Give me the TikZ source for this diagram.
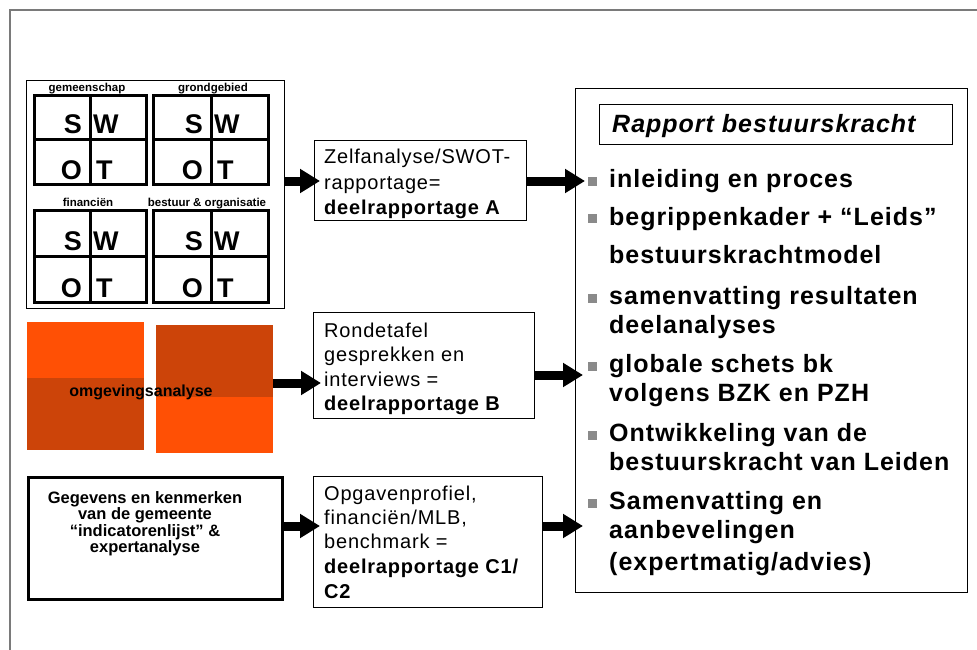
\documentclass[tikz,border=0pt]{standalone}
\usepackage{fontspec}
\setmainfont{Liberation Sans}
\newfontfamily\trackfont[LetterSpace=4]{Liberation Sans}
\usetikzlibrary{arrows.meta,calc}
\definecolor{orangebright}{HTML}{FF5005}
\definecolor{orangedark}{HTML}{CC4409}
\definecolor{bulletgray}{HTML}{8A8A8A}
\definecolor{framegray}{HTML}{7A7A7A}

\begin{document}
\begin{tikzpicture}[x=1pt,y=-1pt,
  panel/.style={draw, anchor=north west, inner sep=0pt},
  gridline/.style={line width=3pt},
  letter/.style={inner sep=0pt, font=\bfseries\fontsize{27}{32}\selectfont},
  quadlabel/.style={inner sep=0pt, anchor=base, font=\bfseries\fontsize{11.5}{14}\selectfont},
  midtext/.style={inner sep=0pt, anchor=base west, font=\trackfont\fontsize{20}{25}\selectfont},
  ctext/.style={inner sep=0pt, anchor=base, font=\bfseries\fontsize{16.5}{20}\selectfont},
  itemtext/.style={inner sep=0pt, anchor=base west, font=\trackfont\bfseries\fontsize{25}{30}\selectfont},
  bulletsq/.style={fill=bulletgray, inner sep=0pt, minimum size=9pt},
  bigarrow/.style={line width=9pt, -{Triangle[length=20pt,width=23pt]}},
]
\useasboundingbox (0,0) rectangle (977,650);

% page frame
\draw[framegray, line width=1.2pt] (10,650) -- (10,10) -- (977,10);

% SWOT block
\node[panel, line width=0.9pt, minimum width=258pt, minimum height=228pt] (swot) at (26,80) {};
\foreach \gx/\gm/\gr/\gy/\gc/\gb/\n in {34/90/146/96/140/184/a, 153/211/268/96/140/184/b, 34/90/146/210/256/302/c, 153/211/268/210/256/302/d}{
  \draw[gridline] (\gx,\gy) rectangle (\gr,\gb);
  \draw[gridline] (\gm,\gy) -- (\gm,\gb) (\gx,\gc) -- (\gr,\gc);
  \node[letter, anchor=base east] (s\n) at (\gm-8,\gc-6) {S};
  \node[letter, anchor=base west] (w\n) at (\gm+3,\gc-6) {W};
  \node[letter, anchor=base east] (o\n) at (\gm-8,\gb-5) {O};
  \node[letter, anchor=base west] (t\n) at (\gm+6,\gb-5) {T};
}
\node[quadlabel] (lgem) at (87,92) {gemeenschap};
\node[quadlabel] (lgrond) at (213,92) {grondgebied};
\node[quadlabel] (lfin) at (88,206) {financiën};
\node[quadlabel] (lbest) at (207,206) {bestuur \& organisatie};

% environment analysis blocks
\node[panel, draw=none, fill=orangebright, minimum width=117pt, minimum height=128pt] (org1) at (27,322) {};
\fill[orangedark] (27,378) rectangle (144,450);
\node[panel, draw=none, fill=orangebright, minimum width=117pt, minimum height=128pt] (org2) at (156,325) {};
\fill[orangedark] (156,325) rectangle (273,397);
\node[inner sep=0pt, anchor=base, font=\bfseries\fontsize{16}{19}\selectfont] (omg) at (141,396) {omgevingsanalyse};

% indicator block
\node[panel, line width=2.5pt, minimum width=254pt, minimum height=122pt] (cbox) at (27,476) {};
\node[ctext] (c1) at (145,503) {Gegevens en kenmerken};
\node[ctext] (c2) at (145,519.5) {van de gemeente};
\node[ctext] (c3) at (145,536) {“indicatorenlijst” \&};
\node[ctext] (c4) at (145,552.5) {expertanalyse};

% partial reports
\node[panel, line width=1pt, minimum width=212pt, minimum height=80pt] (boxA) at (314,140) {};
\node[midtext] (a1) at (324,164) {Zelfanalyse/SWOT-};
\node[midtext] (a2) at (324,189) {rapportage=};
\node[midtext] (a3) at (324,214) {\bfseries deelrapportage A};

\node[panel, line width=1pt, minimum width=221pt, minimum height=106pt] (boxB) at (313,312) {};
\node[midtext] (b1) at (324,337) {Rondetafel};
\node[midtext] (b2) at (324,361) {gesprekken en};
\node[midtext] (b3) at (324,386) {interviews =};
\node[midtext] (b4) at (324,410) {\bfseries deelrapportage B};

\node[panel, line width=1pt, minimum width=229pt, minimum height=131pt] (boxC) at (313,476) {};
\node[midtext] (k1) at (324,500) {Opgavenprofiel,};
\node[midtext] (k2) at (324,524) {financiën/MLB,};
\node[midtext] (k3) at (324,548) {benchmark =};
\node[midtext] (k4) at (324,573) {\bfseries deelrapportage C1/};
\node[midtext] (k5) at (324,598) {\bfseries C2};

% final report
\node[panel, line width=1.3pt, minimum width=392pt, minimum height=504pt] (rbox) at (575,88) {};
\node[panel, line width=1pt, minimum width=353pt, minimum height=40pt] (tbox) at (599,104) {};
\node[inner sep=0pt, anchor=base west, font=\trackfont\bfseries\itshape\fontsize{25}{30}\selectfont] (title) at (612,133) {Rapport bestuurskracht};

\foreach \y/\n in {181/1, 218/2, 298/3, 366/4, 435/5, 503/6}{
  \node[bulletsq] (bul\n) at (592,\y) {};
}
\node[itemtext] (i1) at (609,187) {inleiding en proces};
\node[itemtext] (i2) at (609,225) {begrippenkader + “Leids”};
\node[itemtext] (i2b) at (609,263) {bestuurskrachtmodel};
\node[itemtext] (i3) at (609,304) {samenvatting resultaten};
\node[itemtext] (i3b) at (609,333) {deelanalyses};
\node[itemtext] (i4) at (609,372) {globale schets bk};
\node[itemtext] (i4b) at (609,401) {volgens BZK en PZH};
\node[itemtext] (i5) at (609,441) {Ontwikkeling van de};
\node[itemtext] (i5b) at (609,470) {bestuurskracht van Leiden};
\node[itemtext] (i6) at (609,509) {Samenvatting en};
\node[itemtext] (i6b) at (609,538) {aanbevelingen};
\node[itemtext] (i6c) at (609,570) {(expertmatig/advies)};

% connectors
\coordinate (rowA) at (0,181);
\coordinate (rowB) at (0,375);
\coordinate (rowO) at (0,383);
\coordinate (rowC) at (0,526);
\draw[bigarrow] (swot.east |- rowA) -- ($(boxA.west |- rowA)+(6,0)$);
\draw[bigarrow] (boxA.east |- rowA) -- ($(rbox.west |- rowA)+(10,0)$);
\draw[bigarrow] (org2.east |- rowO) -- ($(boxB.west |- rowO)+(8,0)$);
\draw[bigarrow] (boxB.east |- rowB) -- ($(rbox.west |- rowB)+(8,0)$);
\draw[bigarrow] (cbox.east |- rowC) -- ($(boxC.west |- rowC)+(7,0)$);
\draw[bigarrow] (boxC.east |- rowC) -- ($(rbox.west |- rowC)+(8,0)$);
\end{tikzpicture}
\end{document}
